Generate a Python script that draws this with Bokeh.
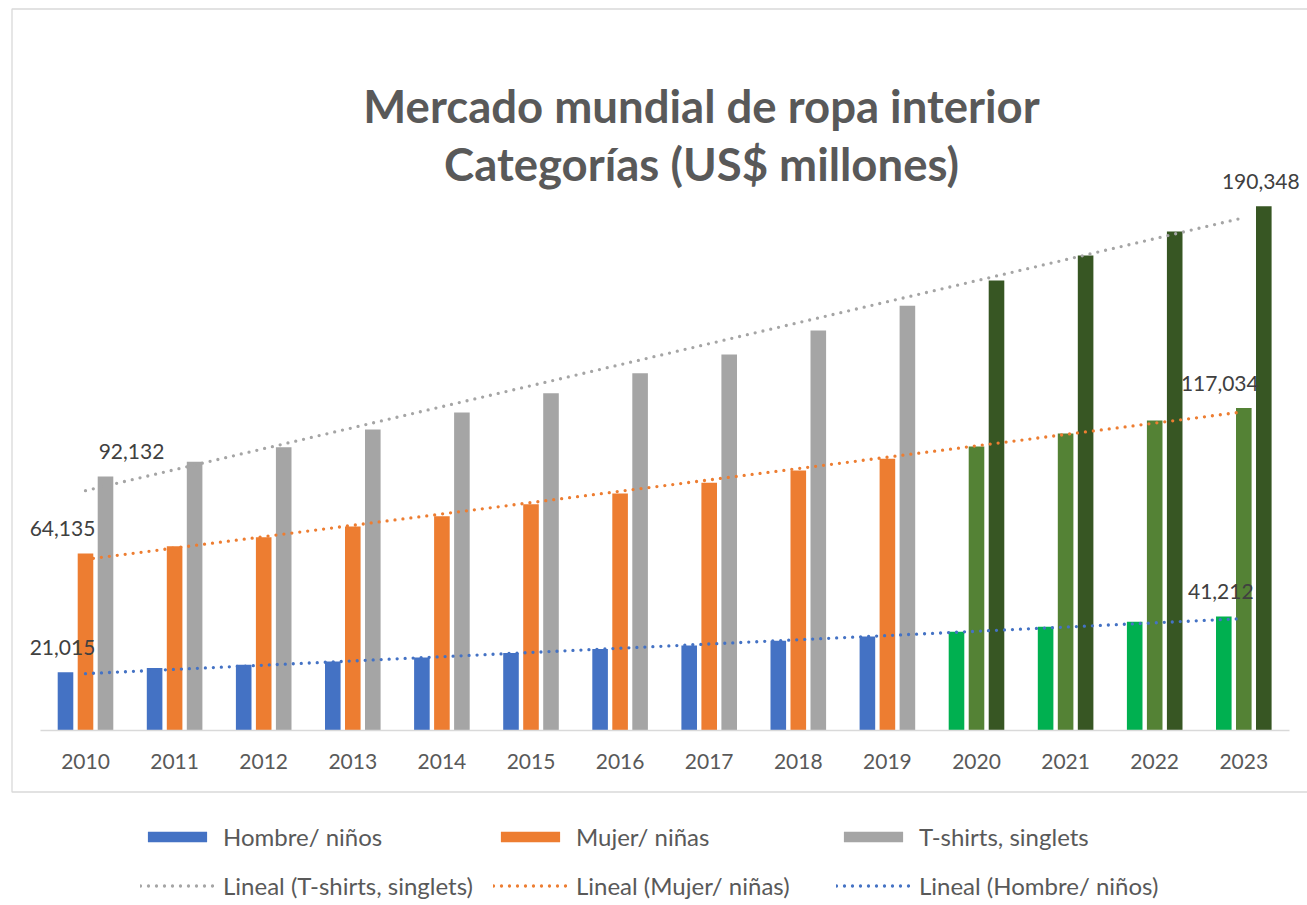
import numpy as np
from bokeh.plotting import figure
from bokeh.models import ColumnDataSource, FixedTicker, Label, Legend, LegendItem, Range1d
from bokeh.core.properties import value
from bokeh.embed import file_html
from bokeh.resources import INLINE

# ---------------- data ----------------
years = ["2010", "2011", "2012", "2013", "2014", "2015", "2016",
         "2017", "2018", "2019", "2020", "2021", "2022", "2023"]
hombre = [21015, 22520, 23720, 24915, 26370, 27970, 29420,
          30730, 32440, 34000, 35710, 37530, 39350, 41212]
mujer = [64135, 66810, 70080, 73970, 77720, 82080, 85970,
         89860, 94330, 98580, 103050, 107780, 112500, 117034]
tshirts = [92132, 97490, 102800, 109230, 115410, 122430, 129700,
           136500, 145220, 154200, 163390, 172480, 181200, 190348]
n_hist = 10  # 2010-2019 historical, 2020-2023 forecast
series_names = ["Hombre/ niños", "Mujer/ niñas", "T-shirts, singlets"]
trend_names = ["Lineal (Hombre/ niños)", "Lineal (Mujer/ niñas)", "Lineal (T-shirts, singlets)"]
title_lines = ["Mercado mundial de ropa interior", "Categorías (US$ millones)"]

# labelled points: (series index, year index)
label_series = [2, 1, 0, 2, 1, 0]
label_years = [0, 0, 0, 13, 13, 13]

# ---------------- layout helpers ----------------
W, H = 1307, 905
STEP = 89.1      # pixels per category
X0 = 85.0        # canvas x of first category centre
BASE = 729.5     # canvas y of the baseline
VPP = 363.5      # value per pixel


def cx(px):
    return (px - X0) / STEP


def cy(py):
    return (BASE - py) * VPP


FONT = "Lato"
hist_colors = ["#4472C4", "#ED7D31", "#A5A5A5"]
fc_colors = ["#00B050", "#548235", "#375623"]
offsets = [-0.2245, 0.0, 0.2245]
bar_w = 0.175

p = figure(width=W, height=H, output_backend="svg", toolbar_location=None,
           x_range=Range1d(cx(0), cx(W)), y_range=Range1d(cy(H), cy(0)),
           min_border=0, min_border_left=0, min_border_right=0,
           min_border_top=0, min_border_bottom=0,
           y_axis_location=None, title=None,
           background_fill_color="white", border_fill_color="white",
           outline_line_color=None)
p.grid.visible = False

# chart border box
p.quad(left=[cx(11.5)], right=[cx(W + 6)], top=[cy(8.5)], bottom=[cy(791.5)],
       fill_color=None, line_color="#D9D9D9", line_width=1.3)

xs = np.arange(len(years))
all_series = [hombre, mujer, tshirts]

bar_renderers = []
line_renderers = []
for k, vals in enumerate(all_series):
    vals = np.array(vals, dtype=float)
    r = p.vbar(x=xs[:n_hist] + offsets[k], top=vals[:n_hist], width=bar_w,
               fill_color=hist_colors[k], line_color=None)
    bar_renderers.append(r)
    p.vbar(x=xs[n_hist:] + offsets[k], top=vals[n_hist:], width=bar_w,
           fill_color=fc_colors[k], line_color=None)

for k, vals in enumerate(all_series):
    coef = np.polyfit(xs, np.array(vals, dtype=float), 1)
    lx = np.array([xs[0], xs[-1]], dtype=float)
    lr = p.line(lx, np.polyval(coef, lx), line_color=hist_colors[k],
                line_width=3.3, line_dash="0 8", line_cap="round")
    line_renderers.append(lr)

# data labels
lab_x = [xs[i] + offsets[s] for s, i in zip(label_series, label_years)]
lab_y = [all_series[s][i] for s, i in zip(label_series, label_years)]
lab_t = [f"{v:,}" for v in lab_y]
lab_dx = [26, -23, -3, -3, -24, -3]
src = ColumnDataSource(dict(x=lab_x, y=lab_y, text=lab_t, dx=lab_dx))
p.text(x="x", y="y", text="text", x_offset="dx", y_offset=-25, source=src,
       text_align="center", text_baseline="middle", text_font=value(FONT),
       text_font_size="21px", text_color="#404040")

# x axis at the baseline
ax = p.xaxis[0]
ax.ticker = FixedTicker(ticks=list(range(len(years))))
ax.major_label_overrides = {i: y for i, y in enumerate(years)}
ax.fixed_location = 0
ax.bounds = (cx(40), cx(1289))
ax.axis_line_color = "#D9D9D9"
ax.axis_line_width = 1.5
ax.major_tick_line_color = None
ax.minor_tick_line_color = None
ax.major_label_standoff = 18
ax.major_label_text_font = FONT
ax.major_label_text_font_size = "21px"
ax.major_label_text_color = "#595959"

# title
for j, line in enumerate(title_lines):
    p.add_layout(Label(x=cx(701), y=cy(105 + 58 * j), text=line,
                       text_align="center", text_baseline="middle",
                       text_font=FONT, text_font_style="bold",
                       text_font_size="45.5px", text_color="#595959"))

# legend
items = [LegendItem(label=series_names[k], renderers=[bar_renderers[k]]) for k in range(3)]
items += [LegendItem(label=trend_names[k], renderers=[line_renderers[k]]) for k in (2, 1, 0)]
legend = Legend(items=items, location=(140, 5), orientation="horizontal", ncols=3,
                glyph_width=74, glyph_height=13, label_standoff=9, spacing=20,
                label_width=240,
                padding=0, margin=0, border_line_color=None, background_fill_alpha=0,
                label_text_font=FONT, label_text_font_size="24px",
                label_text_color="#595959")
p.add_layout(legend)

open("out.html", "w").write(file_html(p, INLINE))
